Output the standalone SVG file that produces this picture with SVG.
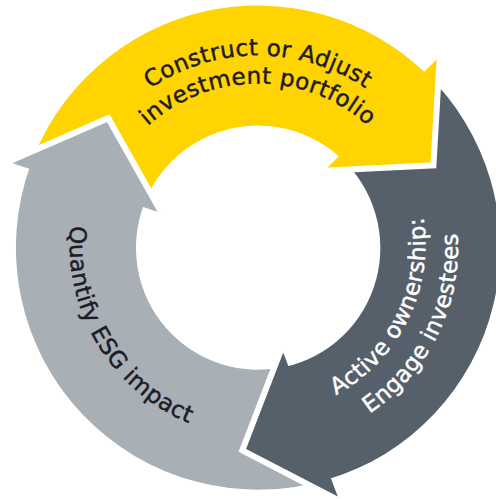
<svg xmlns="http://www.w3.org/2000/svg" width="496" height="499" viewBox="0 0 496 499">
  <defs>
    <style>
      .yellow { fill: #FFD400; }
      .dark { fill: #55606B; }
      .light { fill: #A8AFB5; }
      .head { stroke: #FFFFFF; stroke-width: 6; stroke-linejoin: miter; stroke-linecap: butt; }
      .lbl { font-family: "DejaVu Sans", "Liberation Sans", sans-serif; font-size: 23px; letter-spacing: 0.4px; stroke-width: 0.45px; }
      .lbl-dark { fill: #1C1C26; stroke: #1C1C26; }
      .lbl-light { fill: #FFFFFF; stroke: #FFFFFF; }
    </style>
    <path id="tpY1" d="M 68.9 214.2 A 192 192 0 0 1 447.1 214.2"/>
    <path id="tpY2" d="M 96.5 219 A 164 164 0 0 1 419.5 219"/>
    <path id="tpD1" d="M 211.2 410.9 A 172 172 0 0 0 359.1 108.4"/>
    <path id="tpD2" d="M 202.9 439.8 A 200 200 0 0 0 375.5 85.7"/>
    <path id="tpL1" d="M 132 102.6 A 193 193 0 0 0 326.8 426.7"/>
  </defs>
  <rect width="496" height="499" fill="#FFFFFF"/>

  <g id="connectors">
    <path class="yellow" d="M 29.8 166.9 A 242 242 0 0 1 427.1 74.5 L 341.7 159 A 122 122 0 0 0 143.5 205.1 Z"/>
    <path class="dark" d="M 425.7 73.1 A 242 242 0 0 1 327.5 479.6 L 284.6 367.1 A 122 122 0 0 0 340.3 157.6 Z"/>
    <path class="light" d="M 329.3 478.9 A 242 242 0 0 1 30.5 165 L 144.2 203.7 A 122 122 0 0 0 286.4 366.4 Z"/>
    <path class="yellow head" d="M 439.8 56.2 L 433.4 165.3 L 324.2 170.8"/>
    <path class="dark head" d="M 339.4 500.7 L 242.3 450.4 L 281.6 348.3"/>
    <path class="light head" d="M 8.2 161.7 L 108.3 118.2 L 161.8 213.3"/>
  </g>

  <g id="node-construct">
    <text class="lbl lbl-dark"><textPath href="#tpY1" startOffset="50%" text-anchor="middle">Construct or Adjust</textPath></text>
    <text class="lbl lbl-dark"><textPath href="#tpY2" startOffset="50%" text-anchor="middle">investment portfolio</textPath></text>
  </g>
  <g id="node-engage">
    <text class="lbl lbl-light"><textPath href="#tpD1" startOffset="50%" text-anchor="middle">Active ownership:</textPath></text>
    <text class="lbl lbl-light"><textPath href="#tpD2" startOffset="50%" text-anchor="middle">Engage investees</textPath></text>
  </g>
  <g id="node-quantify">
    <text class="lbl lbl-dark"><textPath href="#tpL1" startOffset="50%" text-anchor="middle">Quantify ESG impact</textPath></text>
  </g>
</svg>
